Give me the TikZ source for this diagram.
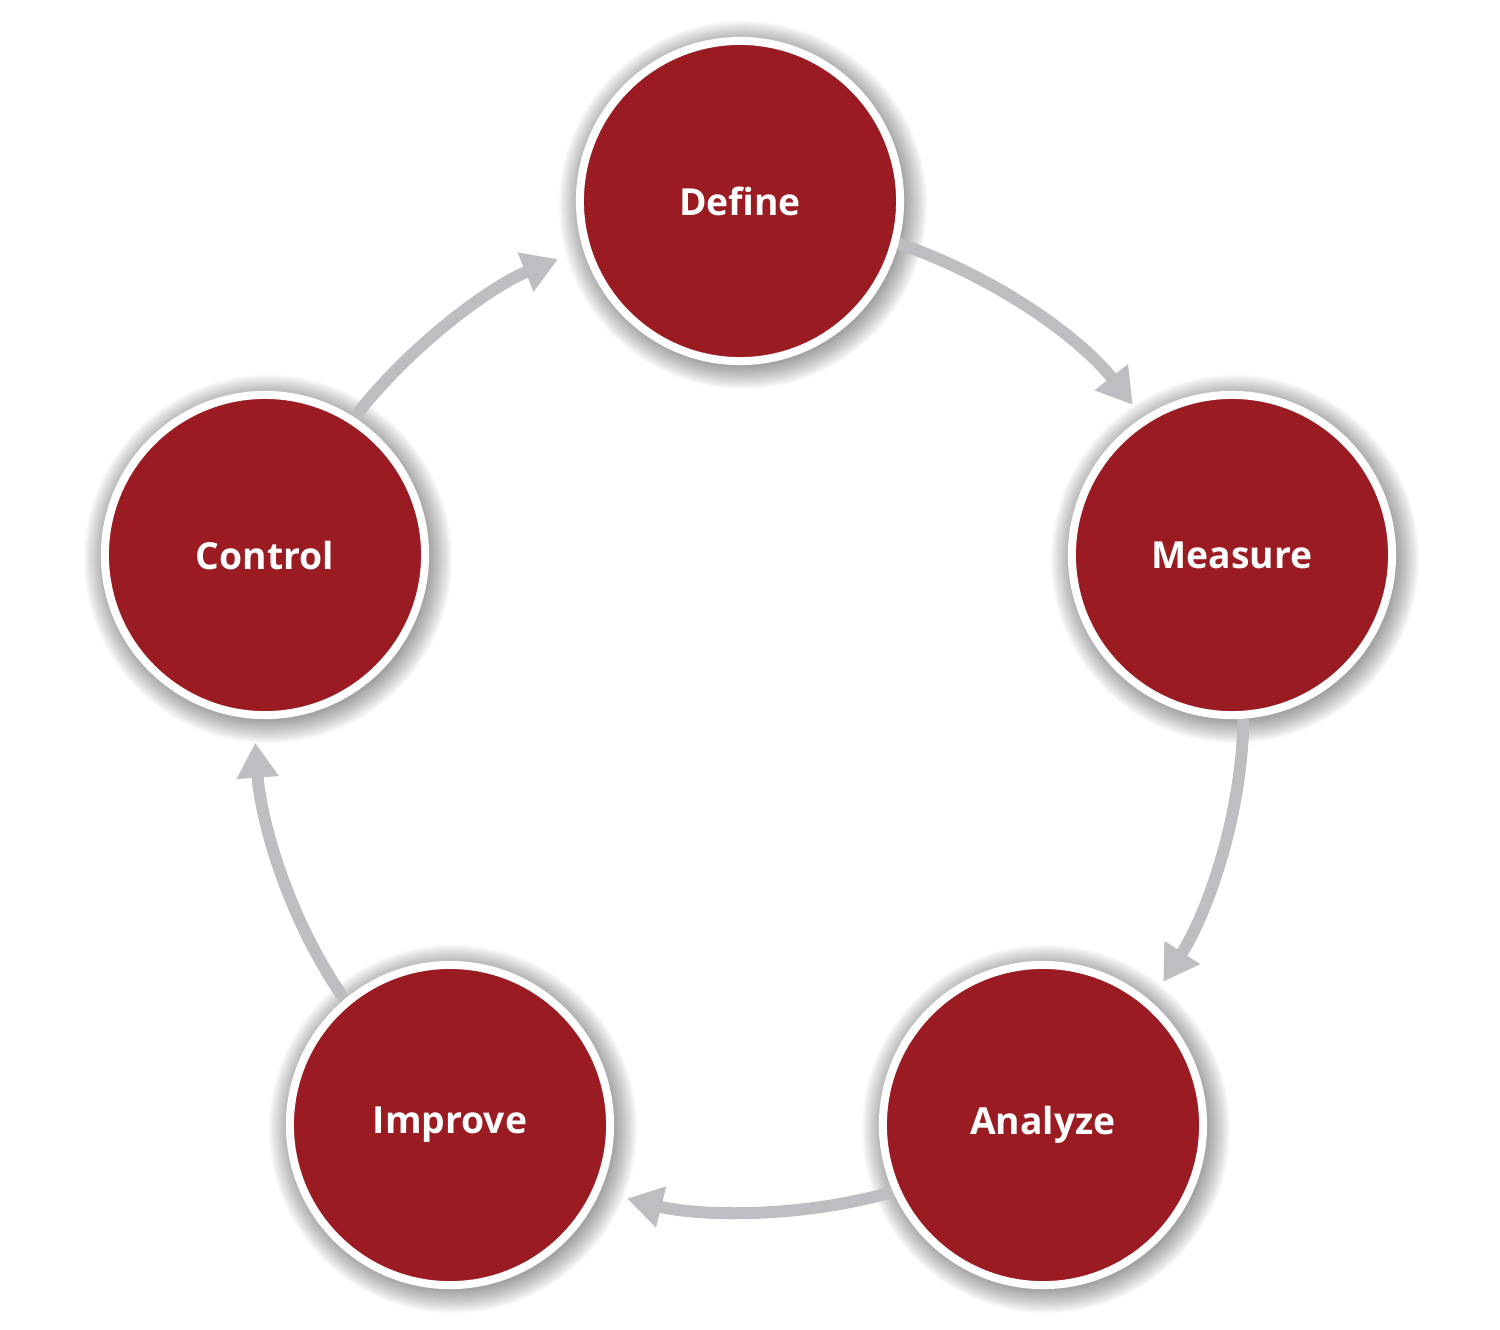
\documentclass[tikz,border=0pt]{standalone}
\usepackage{fontspec}
\setmainfont{Open Sans}
\usetikzlibrary{arrows.meta,backgrounds}
\definecolor{phasered}{HTML}{9A1C22}
\definecolor{cyclegray}{HTML}{BEBEC2}

\begin{document}
\begin{tikzpicture}[x=0.01cm, y=-0.01cm,
  phase node/.style={circle, fill=phasered, draw=white, line width=0.08cm,
                     minimum size=3.2cm, inner sep=0pt, text=white,
                     font=\fontsize{10.6}{12}\selectfont\bfseries},
  cycle arrow/.style={draw=cyclegray, line width=0.12cm, looseness=0.87,
                      -{Triangle[length=0.35cm, width=0.40cm]}}]

\useasboundingbox (0,0) rectangle (1500,1329);

\node[phase node] (define)  at (740,201)  {Define};
\node[phase node] (measure) at (1232,555) {Measure};
\node[phase node] (analyze) at (1043,1125) {Analyze};
\node[phase node] (improve) at (450,1125) {Improve};
\node[phase node] (control) at (265,555)  {Control};

\begin{scope}[on background layer]
% soft shadow round each circle
\foreach \n in {define,measure,analyze,improve,control}
  \foreach \k in {1,...,16}
    \fill[black, opacity=0.026] ([shift={(3,4)}]\n.center)
         circle[radius=1.6cm+\k*0.015cm];

\draw[cycle arrow, shorten >=0.16cm] (define.-15)  to[out=-19, in=128]  (measure.123);
\draw[cycle arrow, shorten >=0.23cm] (measure.-86) to[out=-91, in=57]   (analyze.49);
\draw[cycle arrow, shorten >=0.28cm] (analyze.-156) to[out=196, in=-14] (improve.-24);
\draw[cycle arrow, shorten >=0.24cm] (improve.130) to[out=125, in=-86]  (control.-94);
\draw[cycle arrow, shorten >=0.27cm] (control.57)  to[out=52, in=-158]  (define.-163);
\end{scope}

\end{tikzpicture}
\end{document}
